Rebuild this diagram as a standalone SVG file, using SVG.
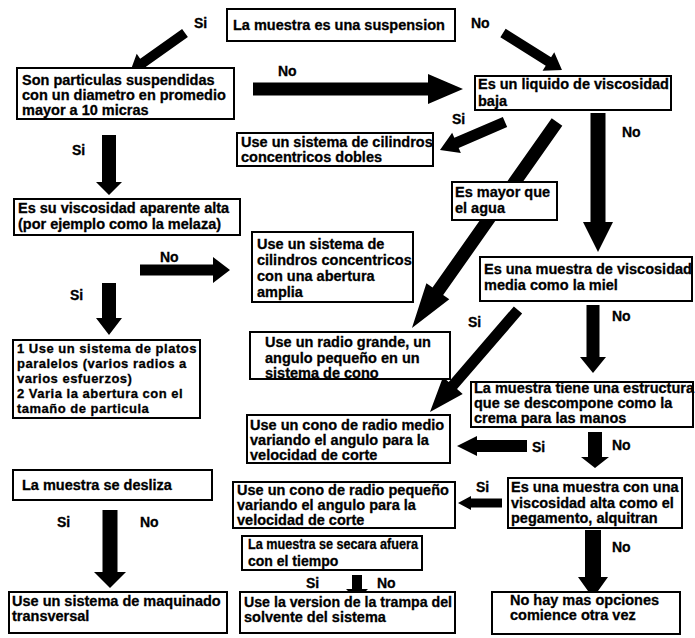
<svg xmlns="http://www.w3.org/2000/svg" width="695" height="638" viewBox="0 0 695 638">
<style>
.box{fill:#fff;stroke:#000;stroke-width:2}
.t{font-family:"Liberation Sans",Arial,sans-serif;font-weight:bold;font-size:14.5px;fill:#000;stroke:#000;stroke-width:0.3}
.s{font-size:14px}
.p{font-size:13px;letter-spacing:0.5px}
.arr{fill:#000}
</style>
<rect width="695" height="638" fill="#fff"/>
<g id="connectors">
<polygon class="arr" points="0,-5 51.4,-5 51.4,-11 67.4,0 51.4,11 51.4,5 0,5" transform="translate(185,33) rotate(144.66)"/>
<polygon class="arr" points="0,-5 53.6,-5 53.6,-11 69.6,0 53.6,11 53.6,5 0,5" transform="translate(503,33) rotate(32.1)"/>
<polygon class="arr" points="0,-6.5 175,-6.5 175,-15 210,0 175,15 175,6.5 0,6.5" transform="translate(253,89)"/>
<polygon class="arr" points="0,-5.5 52.8,-5.5 52.8,-11 70.8,0 52.8,11 52.8,5.5 0,5.5" transform="translate(505,122) rotate(156.7)"/>
<polygon class="arr" points="0,-6.5 207,-6.5 207,-14 252,0 207,14 207,6.5 0,6.5" transform="translate(557,122) rotate(125.14)"/>
<polygon class="arr" points="0,-5.5 99.7,-5.5 99.7,-13 134.7,0 99.7,13 99.7,5.5 0,5.5" transform="translate(518,310) rotate(130.8)"/>
<polygon class="arr" points="0,-7.5 109,-7.5 109,-15 139,0 109,15 109,7.5 0,7.5" transform="translate(598,113) rotate(90)"/>
<polygon class="arr" points="102,135 116,135 116,182 122,182 109,195 96,182 102,182"/>
<polygon class="arr" points="102,283 116,283 116,318 122,318 109,335 96,318 102,318"/>
<polygon class="arr" points="140,264.5 213,264.5 213,257 230,270 213,283 213,275.5 140,275.5"/>
<polygon class="arr" points="586.5,305 599.5,305 599.5,357 606,357 593,373 580,357 586.5,357"/>
<polygon class="arr" points="588,432 602,432 602,457 609,457 595,468 581,457 588,457"/>
<polygon class="arr" points="527,440 477,440 477,436 457,446 477,456 477,452 527,452"/>
<polygon class="arr" points="502,498.5 471,498.5 471,496 458,503 471,510 471,507.5 502,507.5"/>
<polygon class="arr" points="585,530 601,530 601,577 608,577 593,598 578,577 585,577"/>
<polygon class="arr" points="352,575 362,575 362,589 368,589 357,600 346,589 352,589"/>
<polygon class="arr" points="102.5,510 117.5,510 117.5,572 126,572 110,588 94,572 102.5,572"/>
<g class="t s">
<text x="194" y="28">Si</text>
<text x="471" y="28">No</text>
<text x="278" y="76">No</text>
<text x="72" y="155">Si</text>
<text x="452" y="124">Si</text>
<text x="622" y="137">No</text>
<text x="160" y="262">No</text>
<text x="70" y="300">Si</text>
<text x="468" y="327">Si</text>
<text x="612" y="321">No</text>
<text x="612" y="450">No</text>
<text x="532" y="452">Si</text>
<text x="476" y="492">Si</text>
<text x="612" y="552">No</text>
<text x="57" y="527">Si</text>
<text x="140" y="527">No</text>
<text x="306" y="588">Si</text>
<text x="377" y="588">No</text>
</g>
</g>
<g id="n-suspension"><rect class="box" x="227" y="9" width="228" height="32"/><text class="t" x="233" y="30">La muestra es una suspension</text></g>
<g id="n-particulas"><rect class="box" x="17" y="68" width="217" height="51"/><text class="t"><tspan x="22" y="85">Son particulas suspendidas</tspan><tspan x="22" y="100">con un diametro en promedio</tspan><tspan x="22" y="115">mayor a 10 micras</tspan></text></g>
<g id="n-liquido"><rect class="box" x="475" y="76" width="196" height="34"/><text class="t"><tspan x="478" y="89">Es un liquido de viscosidad</tspan><tspan x="478" y="106">baja</tspan></text></g>
<g id="n-dobles"><rect class="box" x="237" y="133" width="196" height="33"/><text class="t"><tspan x="241" y="147">Use un sistema de cilindros</tspan><tspan x="241" y="162">concentricos dobles</tspan></text></g>
<g id="n-aparente"><rect class="box" x="14" y="199" width="226" height="36"/><text class="t"><tspan x="18" y="213">Es su viscosidad aparente alta</tspan><tspan x="18" y="229">(por ejemplo como la melaza)</tspan></text></g>
<g id="n-amplia"><rect class="box" x="252" y="232" width="161" height="70"/><text class="t"><tspan x="257" y="249">Use un sistema de</tspan><tspan x="257" y="265">cilindros concentricos</tspan><tspan x="257" y="281">con una abertura</tspan><tspan x="257" y="297">amplia</tspan></text></g>
<g id="n-mayor"><rect class="box" x="452" y="182" width="105" height="38"/><text class="t"><tspan x="455" y="197">Es mayor  que</tspan><tspan x="455" y="213">el agua</tspan></text></g>
<g id="n-miel"><rect class="box" x="480" y="257" width="212" height="44"/><text class="t"><tspan x="484" y="274">Es una muestra de viscosidad</tspan><tspan x="484" y="290">media como la miel</tspan></text></g>
<g id="n-platos"><rect class="box" x="13" y="340" width="187" height="78"/><text class="t p"><tspan x="17" y="353">1 Use un sistema de platos</tspan><tspan x="17" y="368">paralelos (varios radios a</tspan><tspan x="17" y="383">varios esfuerzos)</tspan><tspan x="17" y="398">2  Varia la abertura con el</tspan><tspan x="17" y="413">tamaño de particula</tspan></text></g>
<g id="n-grande"><rect class="box" x="250" y="332" width="200" height="47"/><text class="t"><tspan x="265" y="347">Use un radio grande, un</tspan><tspan x="265" y="363">angulo pequeño en un</tspan><tspan x="265" y="378">sistema de cono</tspan></text></g>
<g id="n-crema"><rect class="box" x="471" y="382" width="222" height="45"/><text class="t"><tspan x="474" y="393">La muestra tiene una estructura</tspan><tspan x="474" y="408">que se descompone como la</tspan><tspan x="474" y="423">crema para las manos</tspan></text></g>
<g id="n-medio"><rect class="box" x="247" y="415" width="203" height="48"/><text class="t"><tspan x="250" y="430">Use un cono de radio medio</tspan><tspan x="250" y="445">variando el angulo para la</tspan><tspan x="250" y="460">velocidad de corte</tspan></text></g>
<g id="n-desliza"><rect class="box" x="13" y="470" width="199" height="30"/><text class="t" x="22" y="490">La muestra se desliza</text></g>
<g id="n-pequeno"><rect class="box" x="233" y="482" width="222" height="46"/><text class="t"><tspan x="237" y="495">Use un cono de radio pequeño</tspan><tspan x="237" y="510">variando el angulo para la</tspan><tspan x="237" y="525">velocidad de corte</tspan></text></g>
<g id="n-pegamento"><rect class="box" x="508" y="478" width="174" height="50"/><text class="t"><tspan x="511" y="492">Es una muestra con una</tspan><tspan x="511" y="508">viscosidad alta como el</tspan><tspan x="511" y="523">pegamento, alquitran</tspan></text></g>
<g id="n-secara"><rect class="box" x="242" y="536" width="180" height="34"/><text class="t s"><tspan x="248" y="549" textLength="170" lengthAdjust="spacingAndGlyphs">La muestra se secara afuera</tspan><tspan x="248" y="566">con el tiempo</tspan></text></g>
<g id="n-maquinado"><rect class="box" x="9" y="592" width="218" height="41"/><text class="t"><tspan x="12" y="606">Use un sistema de maquinado</tspan><tspan x="12" y="621">transversal</tspan></text></g>
<g id="n-trampa"><rect class="box" x="240" y="592" width="215" height="41"/><text class="t"><tspan x="244" y="607" textLength="208" lengthAdjust="spacingAndGlyphs">Use la version de la trampa del</tspan><tspan x="244" y="622">solvente del sistema</tspan></text></g>
<g id="n-opciones"><rect class="box" x="492" y="592" width="188" height="42"/><text class="t"><tspan x="510" y="605">No hay mas opciones</tspan><tspan x="510" y="620">comience otra vez</tspan></text></g>
</svg>
